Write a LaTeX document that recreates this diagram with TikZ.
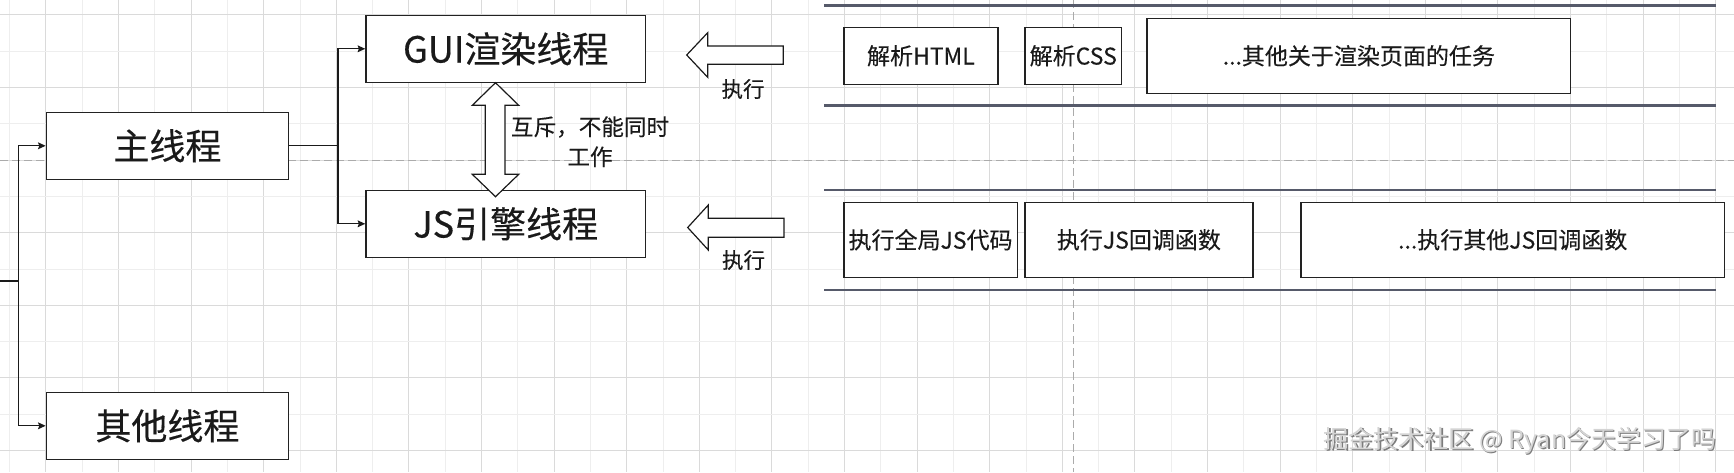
\documentclass[tikz,border=0pt]{standalone}
\usepackage{fontspec}
\setmainfont{Noto Sans CJK SC}
\newfontfamily\medfont[FakeBold=0.35]{Noto Sans CJK SC}
\newfontfamily\semifont[FakeBold=0.2]{Noto Sans CJK SC}
\usetikzlibrary{arrows.meta}
\definecolor{ink}{HTML}{1A1A1A}
\definecolor{boxc}{HTML}{222222}
\definecolor{lanec}{HTML}{565A6A}
\definecolor{gmaj}{HTML}{DADADA}
\definecolor{gmin}{HTML}{EEEEEE}
\definecolor{dashc}{HTML}{ABABAB}
\definecolor{wmtop}{HTML}{D4D4D4}
\definecolor{wmsh}{HTML}{7C7C7C}
\tikzset{
  thread/.style={draw=boxc,line width=0.75pt,fill=white,inner sep=0pt,minimum height=33.5pt,text=ink,font=\medfont\fontsize{18}{22}\selectfont},
  task/.style={draw=boxc,line width=0.7pt,fill=white,inner sep=0pt,text=ink,font=\semifont\fontsize{11.5}{14}\selectfont},
  conn/.style={line width=0.65pt,draw=ink,-{Stealth[length=3.8pt,width=3.4pt,inset=0.6pt]}},
  blockarrow/.style={draw=ink,line width=0.6pt,fill=white,line join=miter},
  lane/.style={draw=lanec,line width=1.25pt},
  gridmajor/.style={draw=gmaj,line width=0.5pt},
  gridminor/.style={draw=gmin,line width=0.5pt},
  guide/.style={draw=dashc,line width=0.5pt,dash pattern=on 4pt off 2pt},
  lbl/.style={text=ink,inner sep=0pt,align=center}
}
\begin{document}
\begin{tikzpicture}[x=0.5pt,y=-0.5pt]
\useasboundingbox (0,0) rectangle (1734,472);
\fill[white] (0,0) rectangle (1734,472);
% grid
\foreach \i in {0,...,23} {
  \draw[gridminor] ({9.6+72.6*\i},0) -- ({9.6+72.6*\i},472);
  \draw[gridmajor] ({45.9+72.6*\i},0) -- ({45.9+72.6*\i},472);
}
\foreach \j in {0,...,5} {
  \draw[gridminor] (0,{51.2+72.6*\j}) -- (1734,{51.2+72.6*\j});
}
\foreach \j in {0,...,6} {
  \draw[gridmajor] (0,{14.9+72.6*\j}) -- (1734,{14.9+72.6*\j});
}
\draw[guide] (0,160.1) -- (1734,160.1);
\draw[guide] (1073.3,0) -- (1073.3,472);

% lanes
\draw[lane] (824,5.7) -- (1716,5.7);
\draw[lane] (824,105.7) -- (1716,105.7);
\draw[lane] (824,190) -- (1716,190);
\draw[lane] (824,290) -- (1716,290);

% thread boxes
\node[thread,minimum width=121pt] (main) at (167.4,145.8) {主线程};
\node[thread,minimum width=121pt] (other) at (167.4,425.8) {其他线程};
\node[thread,minimum width=139.75pt] (gui) at (505.75,48.8) {GUI渲染线程};
\node[thread,minimum width=139.75pt] (js) at (505.75,223.8) {JS引擎线程};

% connectors
\coordinate (src) at (0,281);
\coordinate (j1) at (18.3,281);
\coordinate (j2) at (338,145.8);
\draw[conn] (src) -- (j1) |- (main.west);
\draw[conn] (j1) |- (other.west);
\draw[conn] (main.east) -- (j2) |- (gui.west);
\draw[conn] (j2) |- (js.west);

% mutual exclusion double arrow
\draw[blockarrow] (495.5,82.7) -- (518.7,105.3) -- (505,105.3) -- (505,174.3) -- (518.7,174.3)
  -- (495.5,196.7) -- (472.3,174.3) -- (485.3,174.3) -- (485.3,105.3) -- (472.3,105.3) -- cycle;
\node[lbl,font=\semifont\fontsize{11.3}{15}\selectfont] (mutex) at (590,141.7) {互斥，不能同时\\工作};

% execute arrows
\draw[blockarrow] (686.7,55) -- (707.7,32.7) -- (707.7,46) -- (783.3,46) -- (783.3,64.3)
  -- (707.7,64.3) -- (707.7,77.3) -- cycle;
\node[lbl,font=\semifont\fontsize{10.75}{13}\selectfont] (exec1) at (743,89) {执行};
\draw[blockarrow] (687.7,227.5) -- (708.3,205) -- (708.3,218.3) -- (784,218.3) -- (784,237.3)
  -- (708.3,237.3) -- (708.3,250) -- cycle;
\node[lbl,font=\semifont\fontsize{10.75}{13}\selectfont] (exec2) at (743.5,260) {执行};

% task boxes
\node[task,minimum width=77.1pt,minimum height=28.5pt] (html) at (920.9,55.8) {解析HTML};
\node[task,minimum width=48.25pt,minimum height=28.5pt] (css) at (1073.25,55.8) {解析CSS};
\node[task,minimum width=211.85pt,minimum height=37.5pt] (render) at (1358.85,55.8) {...其他关于渲染页面的任务};
\node[task,minimum width=86.75pt,minimum height=37.5pt] (jsall) at (930.55,239.8) {执行全局JS代码};
\node[task,minimum width=113.9pt,minimum height=37.5pt] (jscb) at (1138.9,239.8) {执行JS回调函数};
\node[task,minimum width=211.7pt,minimum height=37.5pt] (jsother) at (1512.7,239.8) {...执行其他JS回调函数};

% watermark
\node[inner sep=0pt,text=wmsh,font=\fontsize{12.5}{15}\selectfont] (wmshadow) at (1521.3,442.3) {掘金技术社区 @ Ryan今天学习了吗};
\node[inner sep=0pt,text=wmtop,font=\fontsize{12.5}{15}\selectfont] (wm) at (1520,441) {掘金技术社区 @ Ryan今天学习了吗};
\end{tikzpicture}
\end{document}
